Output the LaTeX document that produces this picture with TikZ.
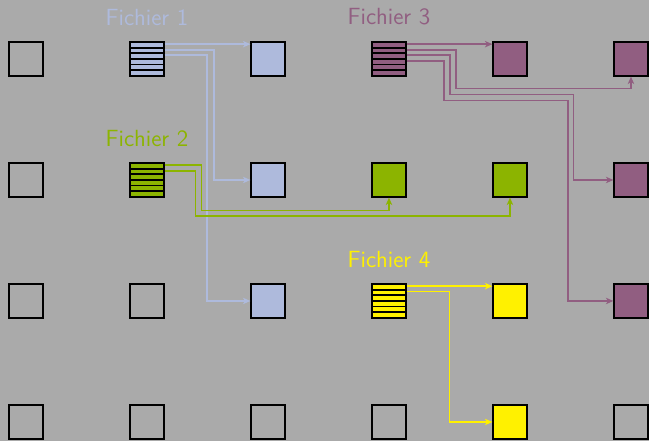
\documentclass[tikz,border=0pt]{standalone}
\usepackage{xcolor}
\usepackage{tikz}
\usetikzlibrary{positioning,arrows.meta}

\definecolor{fond}{HTML}{AAAAAA}
\definecolor{bleu}{HTML}{AEBADC}
\definecolor{vert}{HTML}{8CB400}
\definecolor{prune}{HTML}{915E81}
\definecolor{jaune}{HTML}{FFF100}

\begin{document}
\begin{tikzpicture}[
  case/.style={draw, line width=0.9pt, minimum size=5.5mm, inner sep=0pt},
  fichier/.style={case, fill=#1,
    path picture={\foreach \k in {1,...,5}
      \draw[line width=0.9pt] ([yshift=-\k*5.5mm/6]path picture bounding box.north west) -- ++(1,0);}},
  c-vide/.style={},
  c-bleu/.style={fill=bleu},
  c-vert/.style={fill=vert},
  c-prune/.style={fill=prune},
  c-jaune/.style={fill=jaune},
  f-bleu/.style={fichier=bleu},
  f-vert/.style={fichier=vert},
  f-prune/.style={fichier=prune},
  f-jaune/.style={fichier=jaune},
  lbl/.style={font=\sffamily\fontsize{11}{13}\selectfont},
  fl/.style={-{Stealth[length=3.5pt,width=3pt,inset=1pt]}, line width=0.75pt},
]

\fill[fond] (-0.43,0.975) rectangle (10.298,-6.314);
\useasboundingbox (-0.43,0.975) rectangle (10.298,-6.314);

\foreach \s [count=\c from 0] in {c-vide,f-bleu,c-bleu,f-prune,c-prune,c-prune}
  \node[case,\s] (s-\c-0) at (2*\c,0) {};
\foreach \s [count=\c from 0] in {c-vide,f-vert,c-bleu,c-vert,c-vert,c-prune}
  \node[case,\s] (s-\c-1) at (2*\c,-2) {};
\foreach \s [count=\c from 0] in {c-vide,c-vide,c-bleu,f-jaune,c-jaune,c-prune}
  \node[case,\s] (s-\c-2) at (2*\c,-4) {};
\foreach \s [count=\c from 0] in {c-vide,c-vide,c-vide,c-vide,c-jaune,c-vide}
  \node[case,\s] (s-\c-3) at (2*\c,-6) {};

\node[lbl, bleu, above=1.4mm of s-1-0] (t1) {Fichier 1};
\node[lbl, vert, above=1.4mm of s-1-1] (t2) {Fichier 2};
\node[lbl, prune, above=1.4mm of s-3-0] (t3) {Fichier 3};
\node[lbl, jaune, above=1.4mm of s-3-2] (t4) {Fichier 4};

\foreach \f/\n in {s-1-0/1, s-1-1/2, s-3-0/3, s-3-2/4}
  \foreach \k in {1,...,4}
    \coordinate (f\n-\k) at ([yshift={-(\k-0.5)*5.5mm/6}]\f.north east);

\draw[fl, bleu] (f1-1) -- (f1-1 -| s-2-0.west);
\draw[fl, bleu] (f1-2) -- ++(0.82,0) |- (s-2-1.west);
\draw[fl, bleu] (f1-3) -- ++(0.70,0) |- (s-2-2.west);

\draw[fl, vert] (f2-1) -- ++(0.61,0) -- ++(0,-0.75) -| (s-3-1.south);
\draw[fl, vert] (f2-2) -- ++(0.51,0) -- ++(0,-0.75) -| (s-4-1.south);

\draw[fl, prune] (f3-1) -- (f3-1 -| s-4-0.west);
\draw[fl, prune] (f3-2) -- ++(0.82,0) -- ++(0,-0.64) -| (s-5-0.south);
\draw[fl, prune] (f3-3) -- ++(0.72,0) -- ++(0,-0.65) -- ++(2.04,0) |- (s-5-1.west);
\draw[fl, prune] (f3-4) -- ++(0.62,0) -- ++(0,-0.655) -- ++(2.045,0) |- (s-5-2.west);

\draw[fl, jaune] (f4-1) -- (f4-1 -| s-4-2.west);
\draw[fl, jaune] (f4-2) -- ++(0.71,0) |- (s-4-3.west);

\end{tikzpicture}
\end{document}
